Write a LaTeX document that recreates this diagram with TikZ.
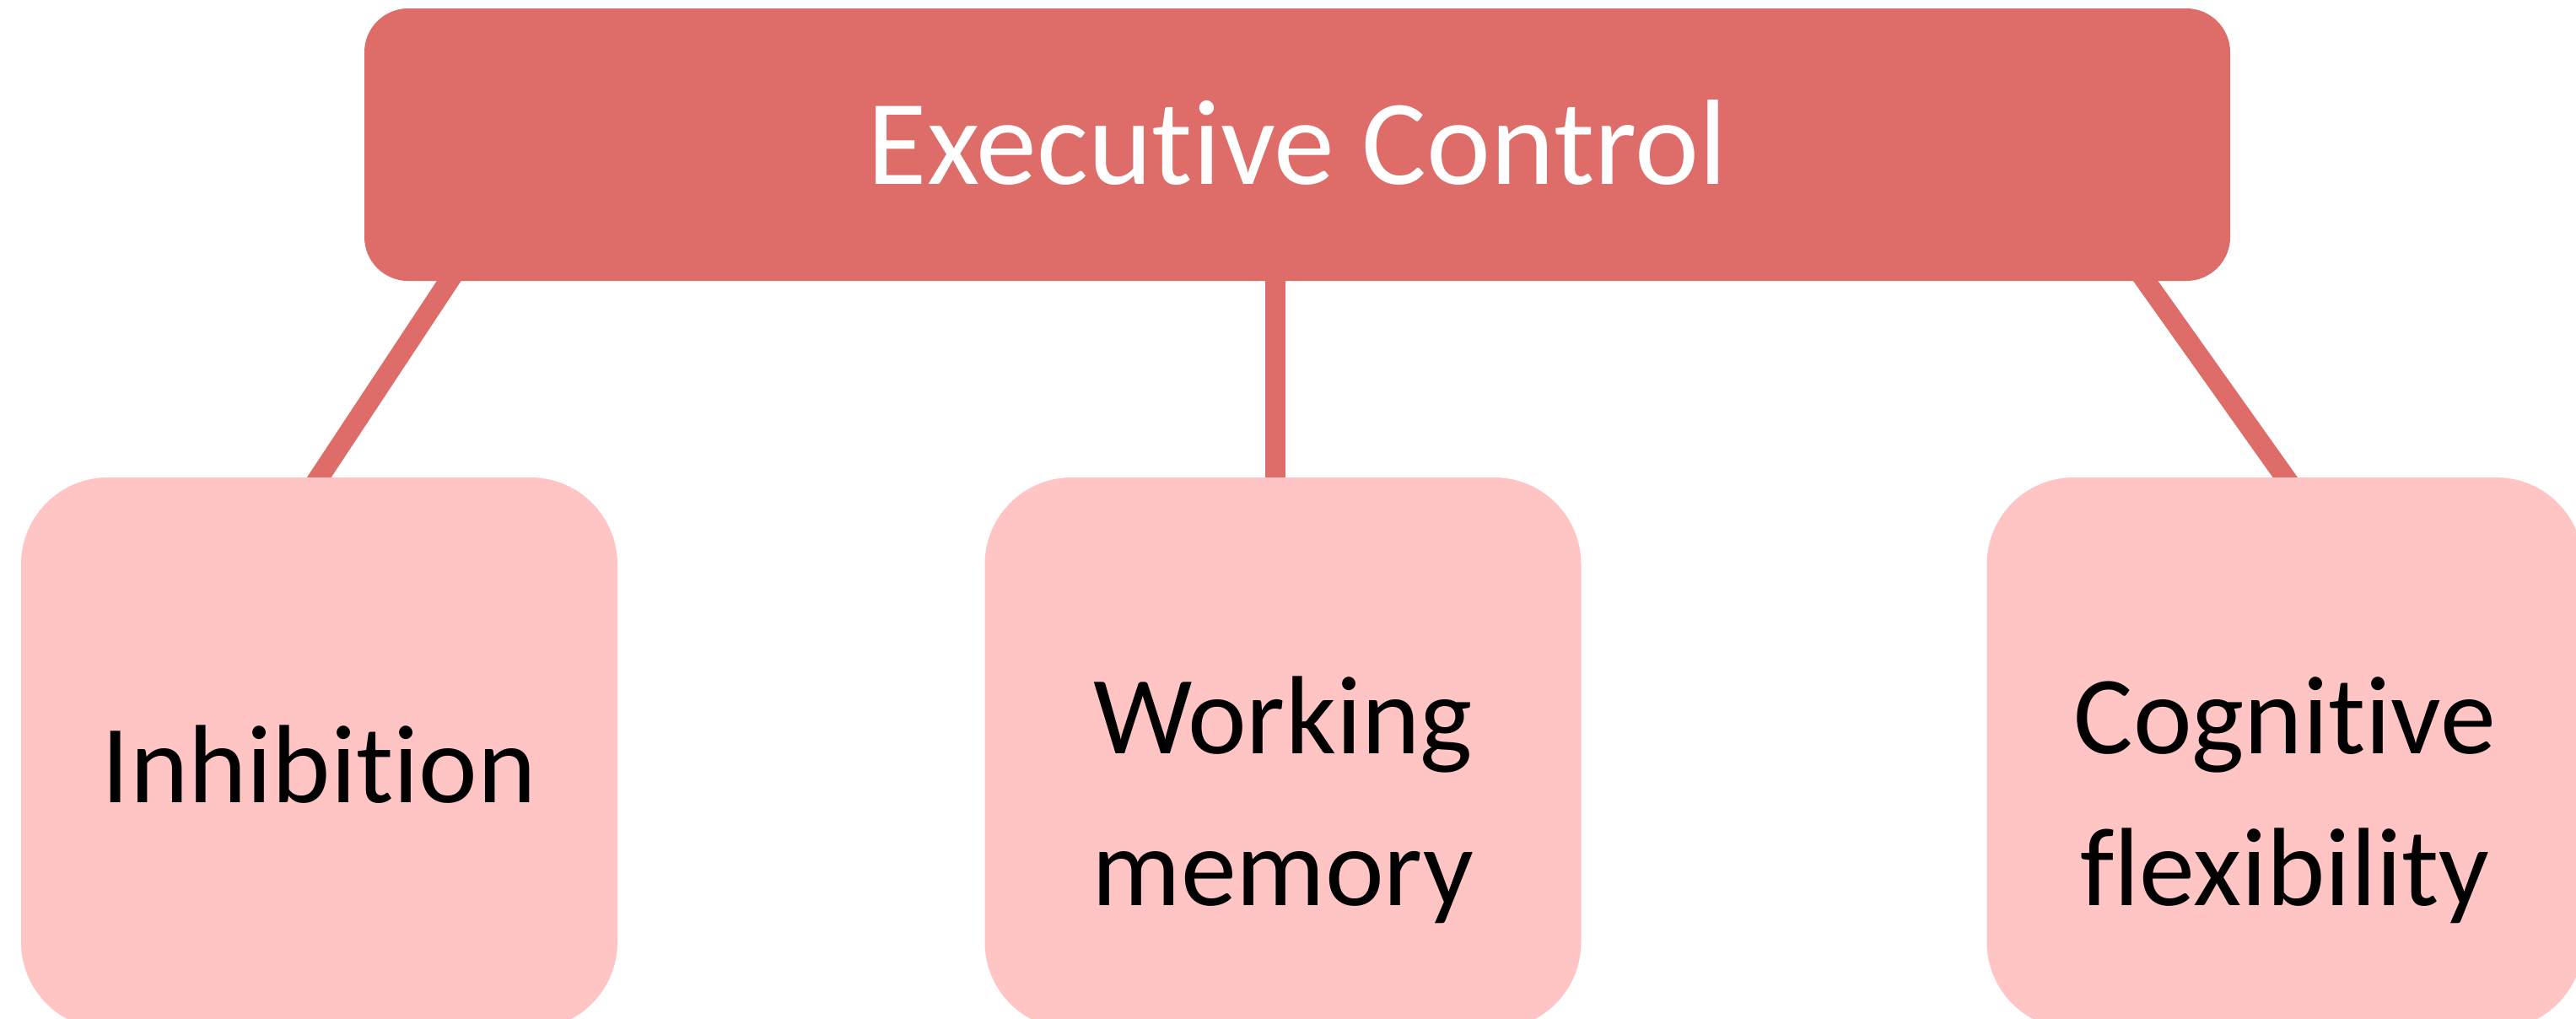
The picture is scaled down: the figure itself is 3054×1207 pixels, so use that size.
\documentclass[tikz,border=0pt]{standalone}
\usepackage{fontspec}
\setmainfont{Carlito}[Ligatures={NoCommon,NoRare}]
\usetikzlibrary{backgrounds}
\definecolor{headred}{HTML}{DE6C69}
\definecolor{leafpink}{HTML}{FFC5C4}
\begin{document}
\begin{tikzpicture}[x=0.5pt,y=-0.5pt,
  headbox/.style={fill=headred, rounded corners=26pt, inner sep=0pt,
    minimum width=1106pt, minimum height=161.5pt},
  leafbox/.style={fill=leafpink, rounded corners=51.5pt, inner sep=0pt,
    minimum width=353.5pt, minimum height=327pt},
  link/.style={draw=headred, line width=12pt, shorten <=-8pt, shorten >=-8pt},
  headtext/.style={text=white, font=\fontsize{72}{86}\selectfont, anchor=base, inner sep=0pt},
  leaftext/.style={text=black, font=\fontsize{66}{90}\selectfont, anchor=base,
    inner sep=0pt, align=center}]
\useasboundingbox (0,0) rectangle (3054,1207);
\clip (0,0) rectangle (3054,1207);

% boxes
\node[headbox] (head) at (1538,171.5) {};
\node[leafbox] (inh) at (378.5,893) {};
\node[leafbox] (wm)  at (1521,893) {};
\node[leafbox] (cf)  at (2709,893) {};

% labels (base anchor = baseline of the last line)
\node[headtext] (headlabel) at (1538,218) {Executive Control};
\node[leaftext] (inhlabel) at (378.5,951) {Inhibition};
\node[leaftext] (wmlabel) at (1521,1073) {Working\\memory};
\node[leaftext] (cflabel) at (2709,1073) {Cognitive\\flexibility};

% connector start points along the bottom of the head box
\coordinate (lstart) at (532,0);
\coordinate (mstart) at (1512,0);
\coordinate (rstart) at (2544,0);

\begin{scope}[on background layer]
  \draw[link] (head.south -| lstart) -- (inh.north);
  \draw[link] (head.south -| mstart) -- (wm.north -| mstart);
  \draw[link] (head.south -| rstart) -- (cf.north);
\end{scope}
\end{tikzpicture}
\end{document}
